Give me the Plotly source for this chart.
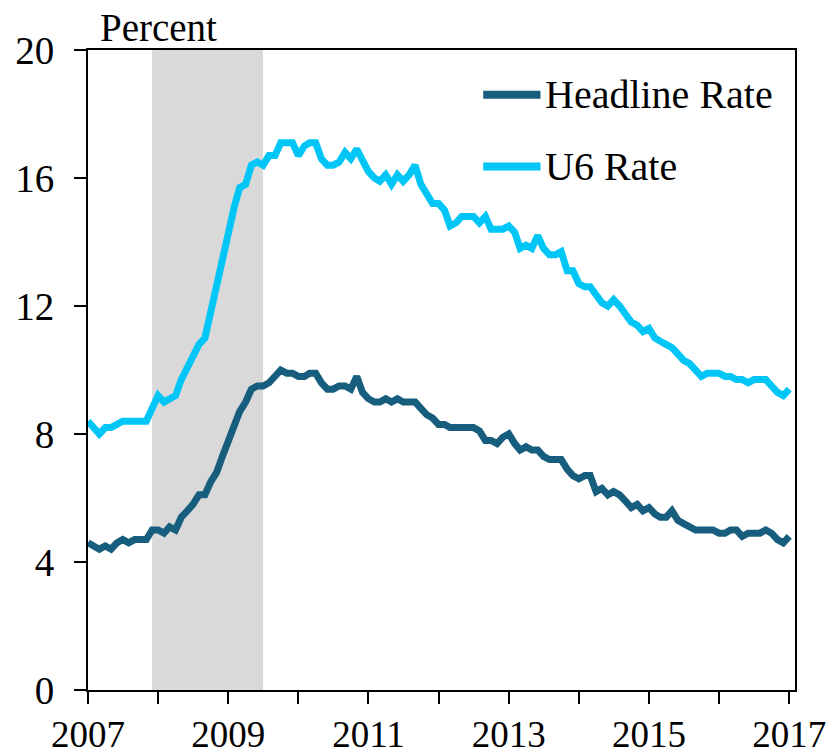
import plotly.graph_objects as go

months = [f"{y}-{m:02d}-01" for y in range(2007, 2017) for m in range(1, 13)] + ["2017-01-01"]

headline = [
    4.6, 4.5, 4.4, 4.5, 4.4, 4.6, 4.7, 4.6, 4.7, 4.7, 4.7, 5.0,
    5.0, 4.9, 5.1, 5.0, 5.4, 5.6, 5.8, 6.1, 6.1, 6.5, 6.8, 7.3,
    7.8, 8.3, 8.7, 9.0, 9.4, 9.5, 9.5, 9.6, 9.8, 10.0, 9.9, 9.9,
    9.8, 9.8, 9.9, 9.9, 9.6, 9.4, 9.4, 9.5, 9.5, 9.4, 9.8, 9.3,
    9.1, 9.0, 9.0, 9.1, 9.0, 9.1, 9.0, 9.0, 9.0, 8.8, 8.6, 8.5,
    8.3, 8.3, 8.2, 8.2, 8.2, 8.2, 8.2, 8.1, 7.8, 7.8, 7.7, 7.9,
    8.0, 7.7, 7.5, 7.6, 7.5, 7.5, 7.3, 7.2, 7.2, 7.2, 6.9, 6.7,
    6.6, 6.7, 6.7, 6.2, 6.3, 6.1, 6.2, 6.1, 5.9, 5.7, 5.8, 5.6,
    5.7, 5.5, 5.4, 5.4, 5.6, 5.3, 5.2, 5.1, 5.0, 5.0, 5.0, 5.0,
    4.9, 4.9, 5.0, 5.0, 4.8, 4.9, 4.9, 4.9, 5.0, 4.9, 4.7, 4.6,
    4.8,
]

u6 = [
    8.4, 8.2, 8.0, 8.2, 8.2, 8.3, 8.4, 8.4, 8.4, 8.4, 8.4, 8.8,
    9.2, 9.0, 9.1, 9.2, 9.7, 10.1, 10.5, 10.8, 11.0, 11.8, 12.6, 13.6,
    14.2, 15.1, 15.7, 15.8, 16.4, 16.5, 16.4, 16.7, 16.7, 17.1, 17.1, 17.1,
    16.7, 17.0, 17.1, 17.1, 16.6, 16.4, 16.4, 16.5, 16.8, 16.6, 16.9, 16.6,
    16.2, 16.0, 15.9, 16.1, 15.8, 16.1, 15.9, 16.1, 16.4, 15.8, 15.5, 15.2,
    15.2, 15.0, 14.5, 14.6, 14.8, 14.8, 14.8, 14.6, 14.8, 14.4, 14.4, 14.4,
    14.5, 14.3, 13.8, 13.9, 13.8, 14.2, 13.8, 13.6, 13.6, 13.7, 13.1, 13.1,
    12.7, 12.6, 12.6, 12.3, 12.1, 12.0, 12.2, 12.0, 11.7, 11.5, 11.4, 11.2,
    11.3, 11.0, 10.9, 10.8, 10.7, 10.5, 10.3, 10.2, 10.0, 9.8, 9.9, 9.9,
    9.9, 9.8, 9.8, 9.7, 9.7, 9.6, 9.7, 9.7, 9.7, 9.5, 9.3, 9.2,
    9.4,
]

recession = ("2007-12-01", "2009-07-01")
year_ticks = [f"{y}-01-01" for y in range(2007, 2018)]
year_labels = [str(y) if (y - 2007) % 2 == 0 else "" for y in range(2007, 2018)]
y_ticks = [0, 4, 8, 12, 16, 20]

series_names = ["Headline Rate", "U6 Rate"]
colors = ["#175E7E", "#00C6F8"]
FONT = "Liberation Serif"

fig = go.Figure()
for name, vals, col in zip(series_names, [headline, u6], colors):
    fig.add_trace(go.Scatter(x=months, y=vals, mode="lines", name=name,
                             line=dict(color=col, width=7), showlegend=False))

fig.add_shape(type="rect", xref="x", yref="y", x0=recession[0], x1=recession[1],
              y0=0, y1=20, fillcolor="#D9D9D9", line_width=0, layer="below")

# manual legend
leg_y = [0.930, 0.818]
for name, col, yy in zip(series_names, colors, leg_y):
    fig.add_shape(type="line", xref="paper", yref="paper", x0=0.559, x1=0.640,
                  y0=yy, y1=yy, line=dict(color=col, width=8))
    fig.add_annotation(xref="paper", yref="paper", x=0.643, y=yy, text=name,
                       showarrow=False, xanchor="left", yanchor="middle",
                       font=dict(family=FONT, size=40, color="black"))

fig.add_annotation(xref="paper", yref="paper", x=0.014, y=1.0, yshift=-1,
                   text="Percent", showarrow=False, xanchor="left", yanchor="bottom",
                   font=dict(family=FONT, size=39, color="black"))

fig.update_layout(
    width=833, height=756,
    margin=dict(l=88, r=38, t=50, b=66),
    paper_bgcolor="white", plot_bgcolor="white",
    font=dict(family=FONT, size=39, color="black"),
    xaxis=dict(type="date", range=["2007-01-01", "2017-01-31"],
               tickvals=year_ticks, ticktext=year_labels, automargin=False,
               tickfont=dict(size=37),
               ticks="outside", ticklen=12, tickwidth=2, tickcolor="black",
               showline=True, linecolor="black", linewidth=2, mirror=True,
               showgrid=False, zeroline=False, ticklabelstandoff=-1),
    yaxis=dict(range=[0, 20], tickvals=y_ticks, automargin=False,
               ticks="outside", ticklen=12, tickwidth=2, tickcolor="black",
               showline=True, linecolor="black", linewidth=2, mirror=True,
               showgrid=False, zeroline=False, ticklabelstandoff=12),
)

# remove the page's default body margin so the figure fills the window exactly
fig.write_html("out.html", config={"displayModeBar": False},
               post_script="document.body.style.margin='0';document.body.style.overflow='hidden';")
